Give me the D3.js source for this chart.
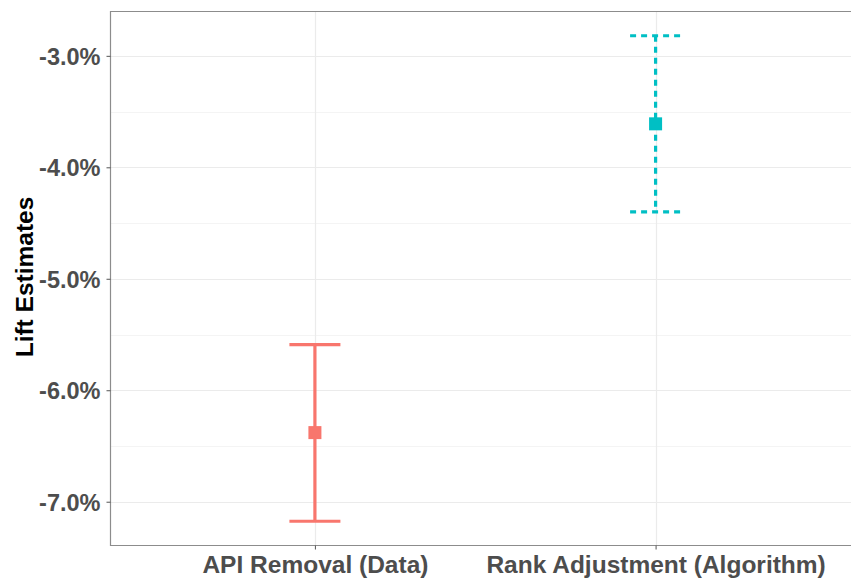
<!DOCTYPE html>
<html>
<head>
<meta charset="utf-8">
<script src="https://cdn.jsdelivr.net/npm/d3@7"></script>
<style>
  body { margin: 0; background: #fff; }
  svg { display: block; font-family: "Liberation Sans", Arial, sans-serif; }
</style>
</head>
<body>
<svg id="chart" width="851" height="578"></svg>
<script>
// data (percent)
const categories = ["API Removal (Data)", "Rank Adjustment (Algorithm)"];
const estimates = [-6.38, -3.61];
const lower = [-7.175, -4.40];
const upper = [-5.59, -2.82];
const colors = ["#F8766D", "#00BFC4"];
const dashes = [null, "6,5"];
const yTicks = [-3, -4, -5, -6, -7];

const svg = d3.select("#chart");
const margin = {left: 110.5, top: 11.5, bottom: 545.5, right: 860};

let points = categories.map((c, i) => ({
    cat: c, est: estimates[i], lo: lower[i], hi: upper[i], color: colors[i], dash: dashes[i]
}));

let x = d3.scalePoint()
    .domain(categories)
    .range([margin.left, margin.right])
    .padding(0.6);

// ggplot style 5% expansion around the data
let yMin = d3.min(lower), yMax = d3.max(upper);
let pad = (yMax - yMin) * 0.05;
let y = d3.scaleLinear()
    .domain([yMin - pad, yMax + pad])
    .range([margin.bottom, margin.top]);

// minor grid
let minor = d3.range(-7.5, -2.4, 1);
svg.append("g").selectAll("line")
    .data(minor.filter(v => v > y.domain()[0] && v < y.domain()[1]))
    .join("line")
    .attr("x1", margin.left).attr("x2", 851)
    .attr("y1", d => Math.round(y(d)) + 0.5).attr("y2", d => Math.round(y(d)) + 0.5)
    .attr("stroke", "#f4f4f4").attr("stroke-width", 1);

// major grid
svg.append("g").selectAll("line")
    .data(yTicks)
    .join("line")
    .attr("x1", margin.left).attr("x2", 851)
    .attr("y1", d => Math.round(y(d)) + 0.5).attr("y2", d => Math.round(y(d)) + 0.5)
    .attr("stroke", "#ebebeb").attr("stroke-width", 1.2);

svg.append("g").selectAll("line")
    .data(categories)
    .join("line")
    .attr("x1", d => Math.round(x(d)) + 0.5).attr("x2", d => Math.round(x(d)) + 0.5)
    .attr("y1", margin.top).attr("y2", margin.bottom)
    .attr("stroke", "#ebebeb").attr("stroke-width", 1.2);

// panel border
svg.append("path")
    .attr("d", `M851,${margin.top}H${margin.left}V${margin.bottom}H851`)
    .attr("fill", "none")
    .attr("stroke", "#8c8c8c")
    .attr("stroke-width", 1.2);

// y axis
let yAxis = d3.axisLeft(y)
    .tickValues(yTicks)
    .tickSize(4)
    .tickPadding(6)
    .tickFormat(d => d3.format(".1f")(d) + "%");
let gy = svg.append("g")
    .attr("transform", `translate(${margin.left},0)`)
    .call(yAxis);
gy.select(".domain").remove();
gy.selectAll("line").attr("stroke", "#555");
gy.selectAll("text")
    .attr("fill", "#4d4d4d")
    .style("font-size", "23.5px")
    .style("font-weight", "bold")
    .attr("dy", "0.36em")
    .text(d => d3.format(".1f")(d).replace("−", "-") + "%");

// x axis
let xAxis = d3.axisBottom(x).tickSize(4).tickPadding(6);
let gx = svg.append("g")
    .attr("transform", `translate(0,${margin.bottom})`)
    .call(xAxis);
gx.select(".domain").remove();
gx.selectAll("line").attr("stroke", "#555");
gx.selectAll("text")
    .attr("fill", "#4d4d4d")
    .style("font-size", "24.5px")
    .style("font-weight", "bold");

// y title
svg.append("text")
    .attr("transform", "translate(33,277) rotate(-90)")
    .attr("text-anchor", "middle")
    .style("font-size", "24.5px")
    .style("font-weight", "bold")
    .attr("fill", "#000")
    .text("Lift Estimates");

// error bars
let capHalf = 25.5;
let bars = svg.append("g").selectAll("g")
    .data(points)
    .join("g");

bars.append("line")
    .attr("x1", d => x(d.cat)).attr("x2", d => x(d.cat))
    .attr("y1", d => y(d.hi)).attr("y2", d => y(d.lo));
bars.append("line")
    .attr("x1", d => x(d.cat) - capHalf).attr("x2", d => x(d.cat) + capHalf)
    .attr("y1", d => y(d.hi)).attr("y2", d => y(d.hi));
bars.append("line")
    .attr("x1", d => x(d.cat) - capHalf).attr("x2", d => x(d.cat) + capHalf)
    .attr("y1", d => y(d.lo)).attr("y2", d => y(d.lo));
bars.selectAll("line")
    .attr("stroke", d => d.color)
    .attr("stroke-width", 3.2)
    .attr("stroke-dasharray", d => d.dash);

// points
let sq = 13;
bars.append("rect")
    .attr("x", d => x(d.cat) - sq / 2)
    .attr("y", d => y(d.est) - sq / 2)
    .attr("width", sq).attr("height", sq)
    .attr("fill", d => d.color);
</script>
</body>
</html>
